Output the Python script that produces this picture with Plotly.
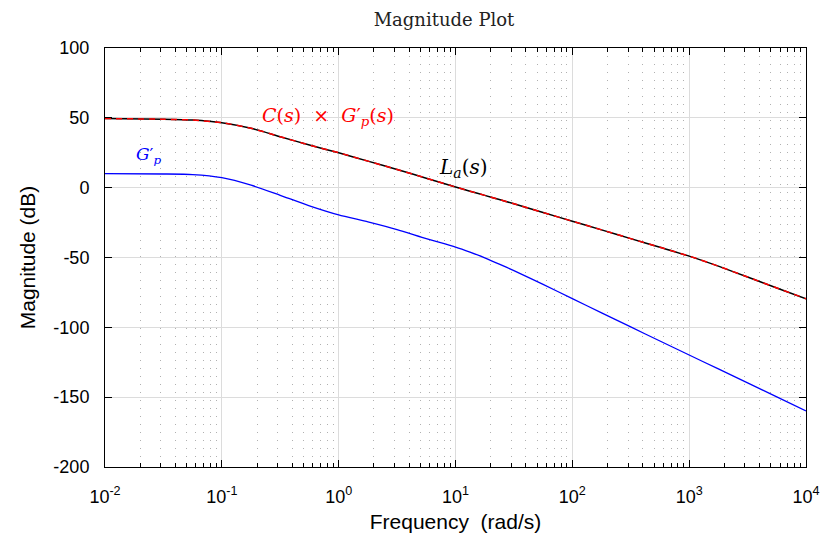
import plotly.graph_objects as go

freq = [0.01, 0.0316, 0.0562, 0.1, 0.178, 0.316, 0.562, 1.0, 1.78, 3.16, 5.62, 10.0,
        13.3, 17.8, 23.7, 31.6, 56.2, 100.0, 178.0, 316.0, 562.0, 1000.0, 1778.0,
        3162.0, 5623.0, 10000.0]
# G'_p magnitude (dB)
gp_db = [10.0, 9.8, 9.4, 7.2, 1.8, -5.5, -13.0, -19.5, -24.5, -30.0, -36.5, -42.5,
         -46.1, -50.2, -54.7, -59.4, -69.2, -79.5, -89.6, -99.7, -109.8, -119.8, -129.8,
         -139.8, -149.8, -159.8]
# L_a(s) magnitude (dB)
la_db = [49.5, 49.0, 48.4, 46.5, 42.5, 36.5, 30.5, 25.0, 19.0, 13.0, 6.8, 0.5,
         -2.5, -5.5, -8.5, -11.5, -17.8, -24.0, -30.2, -36.5, -42.7, -49.0, -56.2,
         -64.0, -71.8, -79.5]
# C(s) x G'_p(s) magnitude (dB)
cgp_db = [49.5, 49.0, 48.4, 46.5, 42.5, 36.5, 30.5, 25.0, 19.0, 13.0, 6.8, 0.5,
          -2.5, -5.5, -8.5, -11.5, -17.8, -24.0, -30.2, -36.5, -42.7, -49.0, -56.2,
          -64.0, -71.8, -79.5]

x_tickvals = [0.01, 0.1, 1, 10, 100, 1000, 10000]
x_ticktext = ["10<sup>-2</sup>", "10<sup>-1</sup>", "10<sup>0</sup>", "10<sup>1</sup>",
              "10<sup>2</sup>", "10<sup>3</sup>", "10<sup>4</sup>"]
y_tickvals = [100, 50, 0, -50, -100, -150, -200]
y_ticktext = ["100", "50", "0", "-50", "-100", "-150", "-200"]

serif = "DejaVu Serif, serif"
sans = "Liberation Sans, Arial, sans-serif"

fig = go.Figure()
fig.add_trace(go.Scatter(x=freq, y=gp_db, mode="lines",
                         line=dict(color="#0000ff", width=1.3, shape="spline", smoothing=0.6),
                         showlegend=False))
fig.add_trace(go.Scatter(x=freq, y=la_db, mode="lines",
                         line=dict(color="black", width=1.5, shape="spline", smoothing=0.6),
                         showlegend=False))
fig.add_trace(go.Scatter(x=freq, y=cgp_db, mode="lines",
                         line=dict(color="#ff0000", width=1.5, dash="6px,5px",
                                   shape="spline", smoothing=0.6),
                         showlegend=False))

fig.add_annotation(x=-0.09, y=51, xref="x", yref="y", showarrow=False,
                   text="<i>C</i>(<i>s</i>) \u00a0×\u00a0 <i>G</i>′<sub><i>p</i></sub>(<i>s</i>)",
                   font=dict(family=serif, size=19, color="#ff0000"))
fig.add_annotation(x=1.065, y=14, xref="x", yref="y", showarrow=False,
                   text="<i>L</i><sub><i>a</i></sub>(<i>s</i>)",
                   font=dict(family=serif, size=20, color="black"))
fig.add_annotation(x=-1.63, y=23, xref="x", yref="y", showarrow=False,
                   text="<i>G</i>′<sub><i>p</i></sub>",
                   font=dict(family=serif, size=17, color="#0000ff"))

fig.update_layout(
    width=827, height=542,
    margin=dict(l=105, r=21, t=48, b=75, autoexpand=False),
    paper_bgcolor="white", plot_bgcolor="white",
    title=dict(text="Magnitude Plot", x=444 / 827, xanchor="center", y=1 - 20 / 542,
               yanchor="middle", font=dict(family=serif, size=18, color="#222")),
    font=dict(family=sans, color="black"),
)
fig.update_xaxes(
    type="log", range=[-2, 4], automargin=False,
    tickvals=x_tickvals, ticktext=x_ticktext,
    tickfont=dict(family=sans, size=18),
    ticks="inside", ticklen=7, tickcolor="black",
    showline=True, linecolor="black", linewidth=1, mirror="ticks",
    showgrid=True, gridcolor="#dcdcdc", gridwidth=1,
    minor=dict(ticks="inside", ticklen=4, tickcolor="black", dtick="D1",
               showgrid=True, gridcolor="#b0b0b0", griddash="1px,7px", gridwidth=1),
    title=dict(text="Frequency  (rad/s)", font=dict(family=sans, size=21), standoff=8),
    ticklabelstandoff=13,
    zeroline=False,
)
fig.update_yaxes(
    range=[-200, 100], automargin=False,
    tickvals=y_tickvals, ticktext=y_ticktext,
    tickfont=dict(family=sans, size=18),
    ticks="inside", ticklen=7, tickcolor="black",
    showline=True, linecolor="black", linewidth=1, mirror="ticks",
    showgrid=True, gridcolor="#dcdcdc", gridwidth=1,
    title=dict(text="Magnitude (dB)", font=dict(family=sans, size=21), standoff=12),
    ticklabelstandoff=11,
    zeroline=False,
)

fig.write_html("out.html")
